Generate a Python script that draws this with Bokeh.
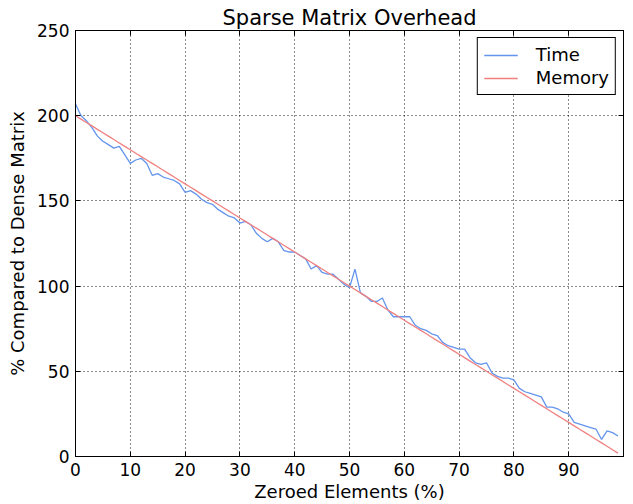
from bokeh.plotting import figure
from bokeh.models import Range1d, LinearAxis, FixedTicker, Legend, LegendItem, CustomJSTickFormatter
from bokeh.embed import file_html
from bokeh.resources import INLINE

x_vals = list(range(100))
time_vals = [207, 200, 197, 193, 188, 185, 183, 181, 182, 177,
             172, 174, 175, 172, 165, 166, 164, 163, 162, 160,
             155, 156, 154, 151, 149, 148, 145, 143, 141, 140,
             137, 138, 136, 131, 128, 126, 128, 126, 121, 120,
             120, 118, 116, 110, 112, 108, 107, 107, 104, 101,
             99, 110, 96, 94, 91, 91, 93, 86, 82, 82,
             82, 82, 77, 75, 74, 72, 71, 67, 65, 64,
             63, 63, 58, 55, 54, 55, 49, 47, 46, 46,
             45, 40, 38, 37, 36, 35, 29, 29, 28, 26,
             25, 20, 19, 18, 17, 16, 10, 15, 14, 12]
memory_vals = [200 - 2 * i for i in x_vals]
x_ticks = [0, 10, 20, 30, 40, 50, 60, 70, 80, 90]
y_ticks = [0, 50, 100, 150, 200, 250]

FONT = "DejaVu Sans"

p = figure(width=633, height=504, output_backend="svg", toolbar_location=None,
           x_range=Range1d(0, 100), y_range=Range1d(0, 250),
           min_border_left=75, min_border_right=10, min_border_top=30, min_border_bottom=46,
           title="Sparse Matrix Overhead")
p.title.align = "center"
p.title.text_font = FONT
p.title.text_font_size = "21px"
p.title.text_font_style = "normal"
p.title.text_color = "black"
p.title.offset = 0
p.title.standoff = 2

p.outline_line_color = "black"
p.outline_line_width = 1
p.background_fill_color = "white"
p.border_fill_color = "white"

for ax in (p.xaxis[0], p.yaxis[0]):
    ax.major_label_text_font = FONT
    ax.major_label_text_font_size = "17px"
    ax.major_label_text_color = "black"
    ax.axis_label_text_font = FONT
    ax.axis_label_text_font_size = "18px"
    ax.axis_label_text_font_style = "normal"
    ax.axis_label_text_color = "black"
    ax.major_tick_in = 5
    ax.major_tick_out = 0
    ax.major_tick_line_color = "black"
    ax.minor_tick_line_color = None
    ax.axis_line_color = "black"
    ax.major_label_standoff = 6

p.xaxis[0].ticker = FixedTicker(ticks=x_ticks)
p.yaxis[0].ticker = FixedTicker(ticks=y_ticks)
p.xaxis[0].axis_label = "Zeroed Elements (%)"
p.yaxis[0].axis_label = "% Compared to Dense Matrix"
p.xaxis[0].axis_label_standoff = 2
p.yaxis[0].axis_label_standoff = 6

blank = CustomJSTickFormatter(code="return ''")
top_ax = LinearAxis(ticker=FixedTicker(ticks=x_ticks), formatter=blank,
                    major_tick_in=5, major_tick_out=0, minor_tick_line_color=None,
                    major_tick_line_color="black", major_label_standoff=0)
right_ax = LinearAxis(ticker=FixedTicker(ticks=y_ticks), formatter=blank,
                      major_tick_in=5, major_tick_out=0, minor_tick_line_color=None,
                      major_tick_line_color="black", major_label_standoff=0)
p.add_layout(top_ax, "above")
p.add_layout(right_ax, "right")

p.xgrid.ticker = FixedTicker(ticks=x_ticks)
p.ygrid.ticker = FixedTicker(ticks=y_ticks)
for g in (p.xgrid[0], p.ygrid[0]):
    g.grid_line_color = "black"
    g.grid_line_dash = "1 3"
    g.grid_line_width = 1
    g.grid_line_alpha = 0.9

r_time = p.line(x_vals, time_vals, line_color="#6495ED", line_width=1.3)
r_mem = p.line(x_vals, memory_vals, line_color="#F08080", line_width=1.3)

legend = Legend(items=[LegendItem(label="Time", renderers=[r_time]),
                       LegendItem(label="Memory", renderers=[r_mem])],
                location="top_right")
legend.label_text_font = FONT
legend.label_text_font_size = "18px"
legend.label_text_color = "black"
legend.border_line_color = "black"
legend.border_line_width = 1
legend.border_line_alpha = 1
legend.background_fill_alpha = 1
legend.margin = 7
legend.padding = 6
legend.spacing = 2
legend.glyph_width = 34
legend.label_standoff = 18
p.add_layout(legend)

open("out.html", "w").write(file_html(p, INLINE))
